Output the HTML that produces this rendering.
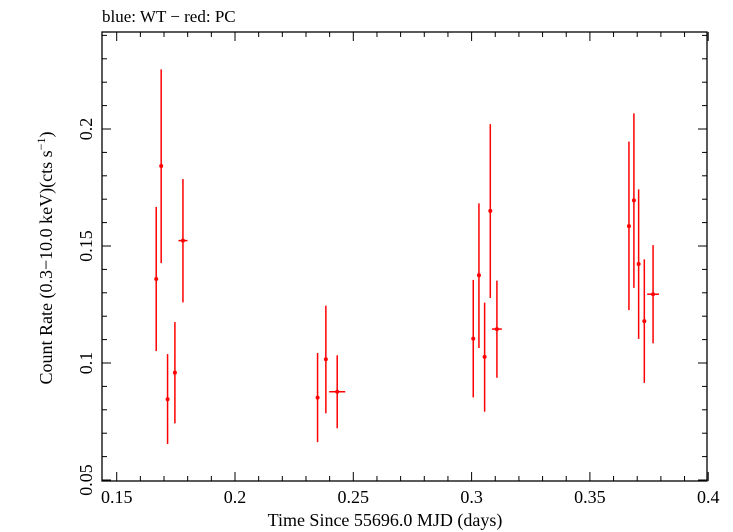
<!DOCTYPE html>
<html><head><meta charset="utf-8"><style>
body{margin:0;background:#fff;}
svg{display:block;font-family:"Liberation Serif",serif;}
</style></head><body>
<svg id="chart" width="733" height="532" viewBox="0 0 733 532" xmlns="http://www.w3.org/2000/svg">
<text x="102" y="22" font-size="17">blue: WT − red: PC</text>
<text x="385" y="526" font-size="18" text-anchor="middle">Time Since 55696.0 MJD (days)</text>
<text transform="translate(52,258) rotate(-90)" font-size="18" text-anchor="middle">Count Rate (0.3−10.0 keV)(cts s<tspan dy="-7" font-size="12">−1</tspan><tspan dy="7">)</tspan></text>
<g id="axes"></g>
<g id="marks"></g>
</svg>
<script>
const times=[0.1667,0.1688,0.1715,0.1746,0.1780,0.2349,0.2384,0.2432,0.3007,0.3031,0.3055,0.3079,0.3107,0.3665,0.3686,0.3706,0.3730,0.3767];
const rates=[0.1359,0.1842,0.0845,0.0959,0.1523,0.0852,0.1016,0.0877,0.1104,0.1375,0.1026,0.1650,0.1145,0.1585,0.1695,0.1423,0.1179,0.1294];
const rateHi=[0.1667,0.2255,0.1038,0.1175,0.1786,0.1043,0.1245,0.1033,0.1355,0.1682,0.1258,0.2021,0.1352,0.1946,0.2067,0.1742,0.1443,0.1504];
const rateLo=[0.1051,0.1427,0.0654,0.0742,0.1259,0.0662,0.0785,0.0721,0.0853,0.1064,0.0792,0.1278,0.0937,0.1226,0.1321,0.1103,0.0915,0.1084];
const timeErr=[0.0006,0.0006,0.0006,0.0006,0.0019,0.0006,0.0006,0.0034,0.0006,0.0006,0.0006,0.0006,0.0021,0.0006,0.0006,0.0006,0.0006,0.0025];
const xTicks=[0.15,0.2,0.25,0.3,0.35,0.4];
const xTickLabels=["0.15","0.2","0.25","0.3","0.35","0.4"];
const yTicks=[0.05,0.1,0.15,0.2];
const yTickLabels=["0.05","0.1","0.15","0.2"];

const L=102,R=707,T=32,B=481;
const X=v=>116.7+(v-0.15)*2366;
const Y=v=>480-(v-0.05)*2340;
const NS="http://www.w3.org/2000/svg";
function mk(tag,attrs,parent){const e=document.createElementNS(NS,tag);for(const k in attrs)e.setAttribute(k,attrs[k]);parent.appendChild(e);return e;}
const ax=document.getElementById('axes');
const frame=mk('rect',{x:L,y:T,width:R-L,height:B-T,fill:'none',stroke:'#000','stroke-width':1.3},ax);


for(let v=0.15;v<=0.4001;v+=0.01){
  const x=X(v);const major=Math.abs(v*20-Math.round(v*20))<1e-6;const len=major?9:5;
  const t1=mk('line',{x1:x,x2:x,y1:B,y2:B-len,stroke:'#000','stroke-width':1},ax);
  
  
  const t2=mk('line',{x1:x,x2:x,y1:T,y2:T+len,stroke:'#000','stroke-width':1},ax);
  
  
}
for(let v=0.05;v<=0.2401;v+=0.01){
  const y=Y(v);if(y<T)continue;const major=Math.abs(v*20-Math.round(v*20))<1e-6;const len=major?9:5;
  const t1=mk('line',{x1:L,x2:L+len,y1:y,y2:y,stroke:'#000','stroke-width':1},ax);
  
  
  const t2=mk('line',{x1:R,x2:R-len,y1:y,y2:y,stroke:'#000','stroke-width':1},ax);
  
  
}
xTicks.forEach((v,i)=>{
  const t=mk('text',{x:X(v),y:503,'font-size':18,'text-anchor':'middle'},ax);
  t.textContent=xTickLabels[i];
  
  
});
yTicks.forEach((v,i)=>{
  const t=mk('text',{transform:`translate(92,${Y(v)}) rotate(-90)`,'font-size':18,'text-anchor':'middle'},ax);
  t.textContent=yTickLabels[i];
  
  
});
const mg=document.getElementById('marks');
times.forEach((t,i)=>{
  const g=mk('g',{},mg);
  
  
  mk('line',{x1:X(t),x2:X(t),y1:Y(rateHi[i]),y2:Y(rateLo[i]),stroke:'#f00','stroke-width':1.5},g);
  mk('line',{x1:X(t-timeErr[i]),x2:X(t+timeErr[i]),y1:Y(rates[i]),y2:Y(rates[i]),stroke:'#f00','stroke-width':1.5},g);
  mk('circle',{cx:X(t),cy:Y(rates[i]),r:2,fill:'#f00'},g);
});
</script>
</body></html>
